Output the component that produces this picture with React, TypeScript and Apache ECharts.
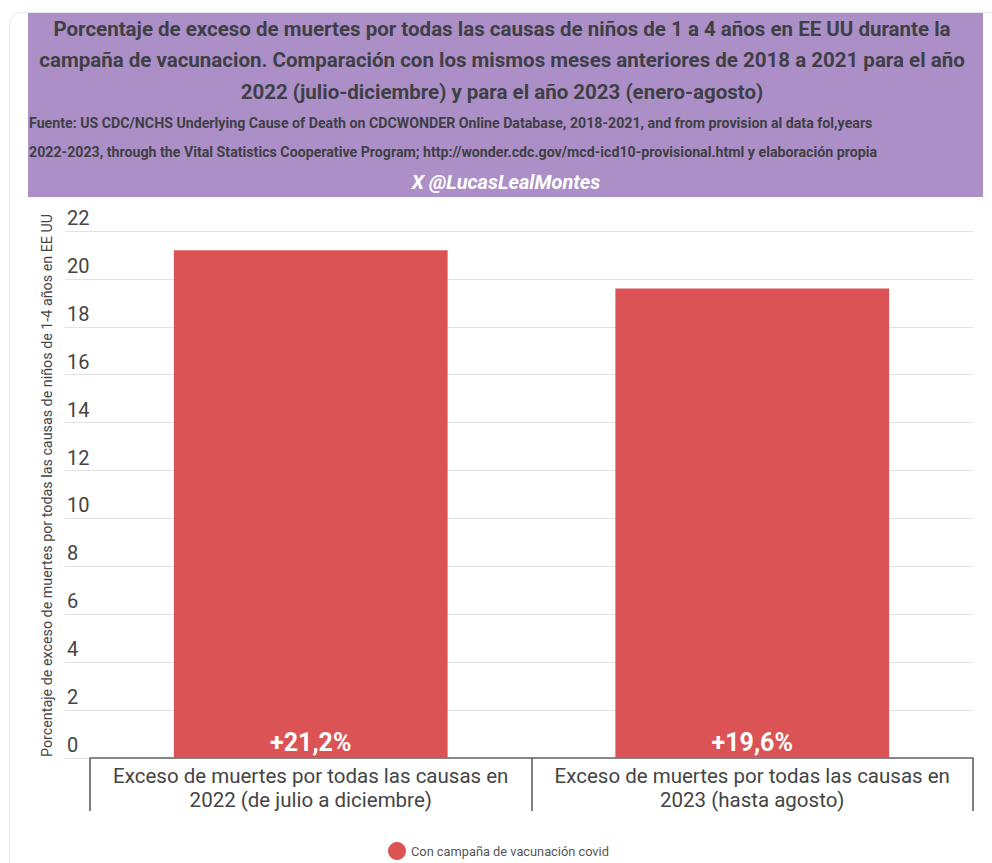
import React, { useEffect, useRef } from "react";
import * as echarts from "echarts";

const categories = [
  "Exceso de muertes por todas las causas en\n2022 (de julio a diciembre)",
  "Exceso de muertes por todas las causas en\n2023 (hasta agosto)",
];
const values = [21.2, 19.6];
const valueLabels = ["+21,2%", "+19,6%"];
const seriesName = "Con campaña de vacunación covid";
const titleText =
  "Porcentaje de exceso de muertes por todas las causas de niños de 1 a 4 años en EE UU durante la\ncampaña de vacunacion. Comparación con los mismos meses anteriores de 2018 a 2021 para el año\n2022 (julio-diciembre) y para el año 2023 (enero-agosto)";
const sourceText =
  "Fuente: US CDC/NCHS Underlying Cause of Death on CDCWONDER Online Database, 2018-2021, and from provision al data fol,years\n2022-2023, through the Vital Statistics Cooperative Program; http://wonder.cdc.gov/mcd-icd10-provisional.html y elaboración propia";
const handleText = "X @LucasLealMontes";
const yAxisName =
  "Porcentaje de exceso de muertes por todas las causas de niños de 1-4 años en EE UU";

export default function App() {
  const ref = useRef<HTMLDivElement>(null);
  useEffect(() => {
    if (!ref.current) return;
    const chart = echarts.init(ref.current, null, { renderer: "svg" });
    chart.setOption({
      animation: false,
      backgroundColor: "#ffffff",
      textStyle: { fontFamily: "Roboto" },
      graphic: [
        {
          type: "rect",
          z: -10,
          shape: { x: 9.5, y: 12.5, width: 1020, height: 880, r: 12 },
          style: { fill: "#ffffff", stroke: "#e4e8ee", lineWidth: 1 },
        },
        {
          type: "rect",
          z: -5,
          shape: { x: 28, y: 13, width: 955, height: 184 },
          style: { fill: "#ab8fc6" },
        },
      ],
      title: [
        {
          text: titleText,
          left: 502,
          top: 13,
          padding: 0,
          textAlign: "center",
          textStyle: {
            fontFamily: "Roboto",
            fontSize: 20.5,
            fontWeight: "bold",
            color: "#3f3f46",
            lineHeight: 31.5,
            align: "center",
          },
        },
        {
          text: sourceText,
          left: 29,
          top: 108,
          padding: 0,
          textStyle: {
            fontFamily: "Roboto",
            fontSize: 14.2,
            fontWeight: "bold",
            color: "#3f3f46",
            lineHeight: 29,
          },
        },
        {
          text: handleText,
          left: 506,
          top: 172,
          padding: 0,
          textAlign: "center",
          textStyle: {
            fontFamily: "Roboto",
            fontSize: 20,
            fontWeight: "bold",
            fontStyle: "italic",
            color: "#ffffff",
          },
        },
      ],
      legend: {
        data: [seriesName],
        left: 388,
        top: 842,
        padding: 0,
        icon: "circle",
        itemWidth: 18,
        itemHeight: 18,
        itemGap: 10,
        textStyle: { fontSize: 12.8, color: "#555555", fontFamily: "Roboto" },
      },
      grid: { left: 90, right: 19, top: 231, bottom: 105, containLabel: false },
      xAxis: {
        type: "category",
        data: categories,
        axisLine: { show: true, lineStyle: { color: "#666666", width: 1.5 } },
        axisTick: {
          show: true,
          alignWithLabel: false,
          length: 53,
          lineStyle: { color: "#555555", width: 1.5 },
        },
        axisLabel: {
          interval: 0,
          margin: 6,
          fontSize: 20.5,
          lineHeight: 24,
          color: "#444444",
          fontFamily: "Roboto",
          align: "center",
        },
      },
      yAxis: {
        type: "value",
        min: 0,
        max: 22,
        interval: 2,
        name: yAxisName,
        nameLocation: "middle",
        nameGap: 36,
        nameTextStyle: {
          fontSize: 14.3,
          color: "#444444",
          fontFamily: "Roboto",
          padding: [0, 0, 0, 18],
        },
        axisLine: { show: false },
        axisTick: {
          show: true,
          length: 25,
          lineStyle: { color: "#e2e2e2", width: 1 },
        },
        splitLine: { show: true, lineStyle: { color: "#e2e2e2", width: 1 } },
        axisLabel: {
          margin: 23,
          align: "left",
          verticalAlign: "bottom",
          padding: [0, 0, 3, 0],
          fontSize: 20,
          color: "#444444",
          fontFamily: "Roboto",
        },
      },
      series: [
        {
          name: seriesName,
          type: "bar",
          data: values,
          barWidth: "62%",
          itemStyle: { color: "#dc5356" },
          label: {
            show: true,
            position: "insideBottom",
            distance: 3,
            color: "#ffffff",
            fontSize: 25,
            fontWeight: "bold",
            fontFamily: "Roboto",
            formatter: (p: any) => valueLabels[p.dataIndex],
          },
        },
      ],
    });
    return () => chart.dispose();
  }, []);
  return (
    <div
      ref={ref}
      style={{ position: "fixed", left: 0, top: 0, width: 992, height: 863 }}
    />
  );
}
